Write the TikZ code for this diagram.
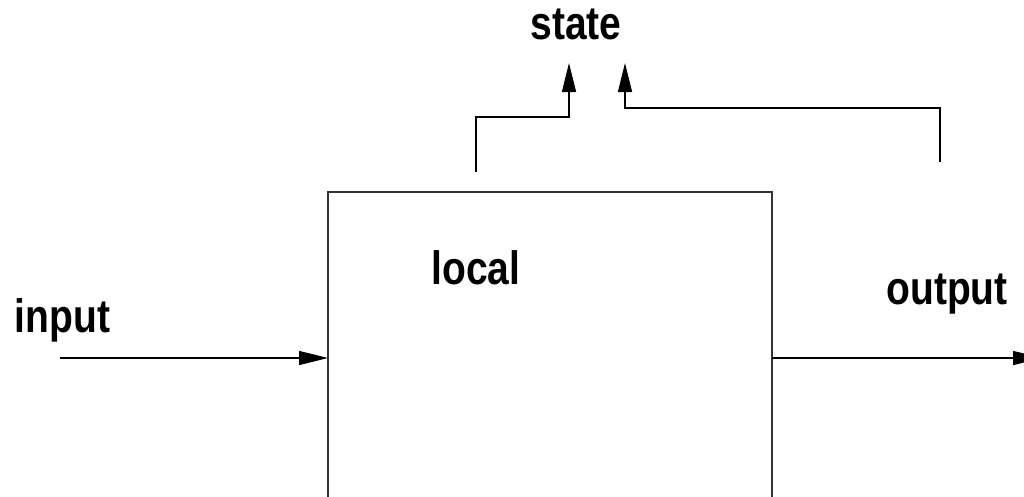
\documentclass[tikz,border=0pt]{standalone}
\usepackage{fontspec}
\setmainfont{Liberation Sans}
\usetikzlibrary{arrows.meta}
\newcommand{\tallbox}[1]{\scalebox{1}[1.2]{#1}}
\begin{document}
\begin{tikzpicture}[x=1pt,y=-1pt,
  lbl/.style={font=\fontsize{39}{46}\selectfont\bfseries, inner sep=0pt, anchor=base},
  conn/.style={line width=1.3pt, -{Triangle[length=29pt,width=14pt]}},
  plain/.style={line width=1.3pt}]
\useasboundingbox (0,0) rectangle (1024,496);
\clip (0,0) rectangle (1024,496);
\draw[line width=1.6pt, draw=black!80] (328,560) |- (772,192) -- (772,560);
\coordinate (boxL) at (328,358);
\coordinate (boxR) at (772,358);
\coordinate (inS) at (60,358);
\coordinate (outE) at (1042,358);
\coordinate (s1) at (476,172);
\coordinate (s1t) at (569,63);
\coordinate (s2) at (940,162);
\coordinate (s2t) at (625,63);
\node[lbl] (input) at (62.5,332) {\tallbox{input}};
\node[lbl] (local) at (476,284) {\tallbox{local}};
\node[lbl] (output) at (947,304) {\tallbox{output}};
\node[lbl] (state) at (576,39) {\tallbox{state}};
\draw[conn] (inS) -- (boxL);
\draw[conn] (boxR) -- (outE);
\draw[conn] (s1) |- (569,117) -- (s1t);
\draw[conn] (s2) |- (625,108) -- (s2t);
\end{tikzpicture}
\end{document}
